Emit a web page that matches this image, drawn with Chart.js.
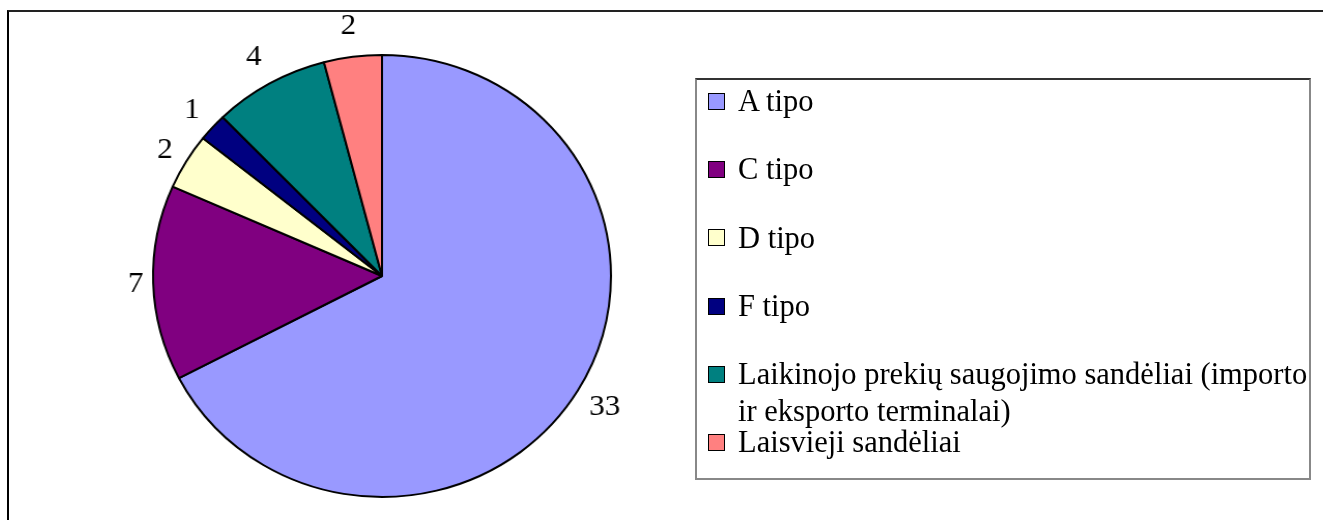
<!DOCTYPE html>
<html>
<head>
<meta charset="utf-8">
<script src="https://cdn.jsdelivr.net/npm/chart.js@4"></script>
<style>
  body { margin: 0; width: 1323px; height: 520px; overflow: hidden; background: #fff; position: relative; font-family: "Liberation Serif", "Times New Roman", serif; }
  #frame { position: absolute; left: 7px; top: 10px; width: 1400px; height: 600px; border-left: 2px solid #000; border-top: 2px solid #222; }
  #pieWrap { position: absolute; left: 0; top: 0; width: 764px; height: 520px; transform: scaleX(1.036); transform-origin: 382px 50%; }
  #legendBox { position: absolute; left: 695px; top: 78px; width: 612px; height: 398px; border: 2px solid #888; border-top-color: #333; }
  .sq { position: absolute; width: 15px; height: 15px; border: 1px solid #000; }
  .lt { position: absolute; left: 738px; width: 574px; font-size: 30.5px; line-height: 37px; color: #000; }
</style>
</head>
<body>
<div id="frame"></div>
<div id="pieWrap"><canvas id="pie"></canvas></div>
<div id="legendBox"></div>
<div id="legend"></div>
<script>
// Data
const labels = ["A tipo", "C tipo", "D tipo", "F tipo", "Laikinojo prekių saugojimo sandėliai (importo ir eksporto terminalai)", "Laisvieji sandėliai"];
const counts = [33, 7, 2, 1, 4, 2];
const colors = ["#9999FF", "#800080", "#FFFFCC", "#000080", "#008080", "#FF8080"];

// Value labels outside the slices
const outerLabels = {
  id: "outerLabels",
  afterDatasetsDraw(chart) {
    const ctx = chart.ctx;
    const meta = chart.getDatasetMeta(0);
    ctx.save();
    ctx.font = '30px "Liberation Serif", "Times New Roman", serif';
    ctx.fillStyle = "#000";
    ctx.textAlign = "center";
    ctx.textBaseline = "middle";
    meta.data.forEach((arc, i) => {
      const p = arc.getProps(["x", "y", "startAngle", "endAngle", "outerRadius"], true);
      const mid = (p.startAngle + p.endAngle) / 2;
      const dx = Math.cos(mid), dy = Math.sin(mid);
      const text = String(counts[i]);
      const w = ctx.measureText(text).width;
      // gap grows a bit towards top/bottom
      const gap = 9 + 12 * dy * dy;
      const d = p.outerRadius + gap + Math.abs(dx) * w / 2 + Math.abs(dy) * 10.5;
      ctx.fillText(text, p.x + dx * d, p.y + dy * d + 1);
    });
    ctx.restore();
  }
};

new Chart(document.getElementById("pie"), {
  type: "pie",
  data: {
    labels: labels,
    datasets: [{
      data: counts,
      backgroundColor: colors,
      borderColor: "#000",
      borderWidth: 2
    }]
  },
  options: {
    responsive: true,
    maintainAspectRatio: false,
    animation: false,
    events: [],
    layout: { padding: { top: 54, bottom: 22, left: 160, right: 160 } },
    plugins: { legend: { display: false }, tooltip: { enabled: false } }
  },
  plugins: [outerLabels]
});

// Legend
const legend = document.getElementById("legend");
labels.forEach((lab, i) => {
  const baseline = 112 + 68.2 * i;
  const sq = document.createElement("div");
  sq.className = "sq";
  sq.style.left = "708px";
  sq.style.top = (baseline - 19) + "px";
  sq.style.background = colors[i];
  legend.appendChild(sq);
  const t = document.createElement("div");
  t.className = "lt";
  t.style.top = (baseline - 28.8) + "px";
  t.textContent = lab;
  legend.appendChild(t);
});
</script>
</body>
</html>
